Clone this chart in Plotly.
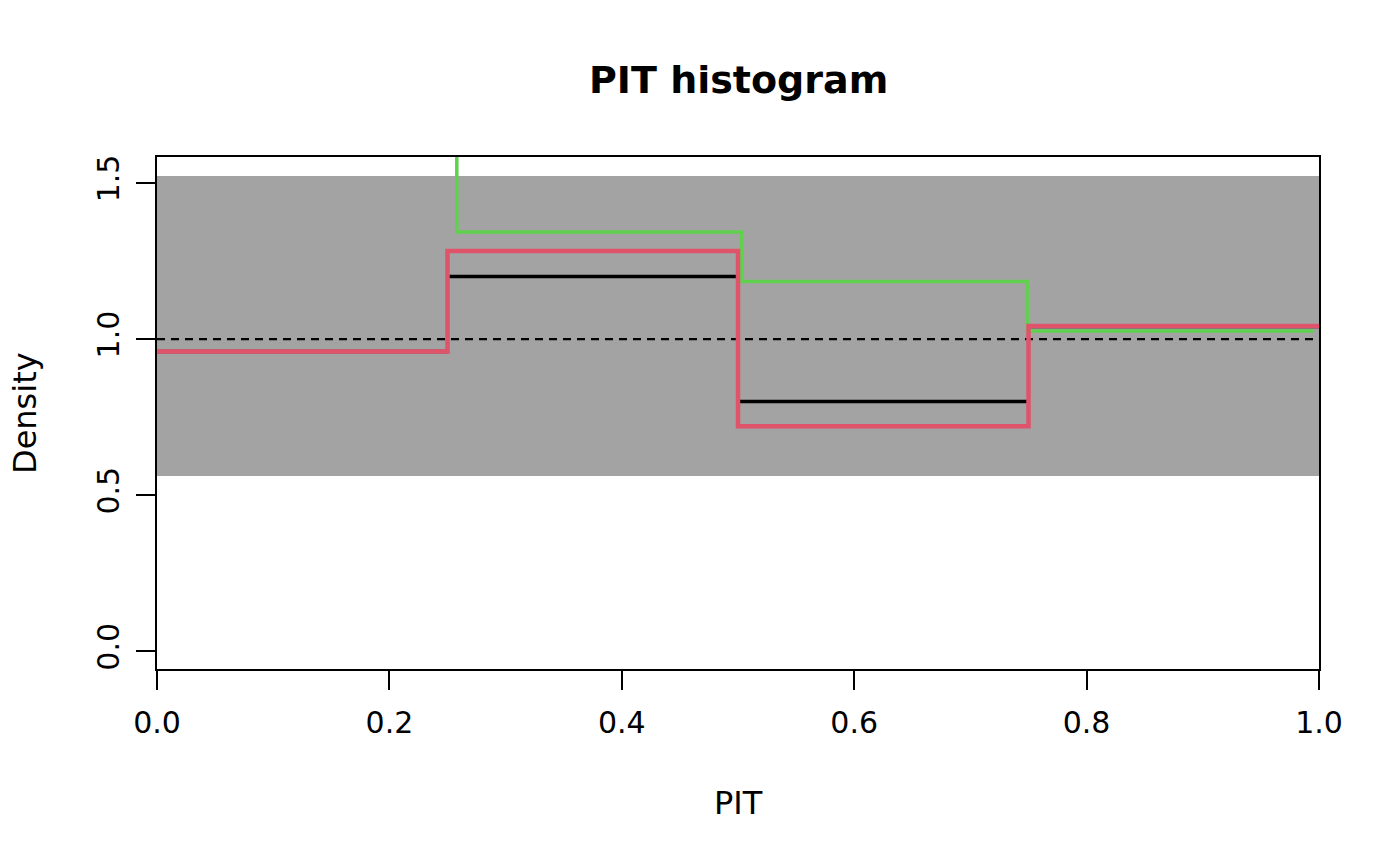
import plotly.graph_objects as go

# ---- data ----
bin_edges = [0.0, 0.25, 0.5, 0.75, 1.0]
black_density = [0.96, 1.20, 0.80, 1.04]
red_density = [0.96, 1.282, 0.721, 1.042]
green_x = [0.008, 0.258, 0.503, 0.749, 0.995]
green_density = [1.80, 1.343, 1.184, 1.026, 1.026]
band_lower = 0.561
band_upper = 1.522
ref_level = 1.0
x_ticks = [0.0, 0.2, 0.4, 0.6, 0.8, 1.0]
y_ticks = [0.0, 0.5, 1.0, 1.5]
x_range = [0.0, 1.0]
y_range = [-0.0567, 1.583]

FONT = "DejaVu Sans"
RED = "#DF536B"
GREEN = "#61D04F"
GRAY = "#A3A3A3"

fig = go.Figure()

# confidence band
fig.add_trace(go.Scatter(
    x=[bin_edges[0], bin_edges[-1], bin_edges[-1], bin_edges[0], bin_edges[0]],
    y=[band_lower, band_lower, band_upper, band_upper, band_lower],
    fill="toself", fillcolor=GRAY, line=dict(width=0), mode="lines",
    hoverinfo="skip", showlegend=False))

# reference dashed line
fig.add_trace(go.Scatter(
    x=[bin_edges[0], bin_edges[-1]], y=[ref_level, ref_level], mode="lines",
    line=dict(color="black", width=2.2, dash="8px,6px"), showlegend=False))

# black histogram tops (horizontal segments)
bx, by = [], []
for i, v in enumerate(black_density):
    bx += [bin_edges[i], bin_edges[i + 1], None]
    by += [v, v, None]
fig.add_trace(go.Scatter(x=bx, y=by, mode="lines",
                         line=dict(color="black", width=3.5), showlegend=False))

# green step line
fig.add_trace(go.Scatter(x=green_x, y=green_density, mode="lines",
                         line=dict(color=GREEN, width=3.5, shape="hv"), showlegend=False))

# red step line
fig.add_trace(go.Scatter(x=bin_edges, y=red_density + [red_density[-1]], mode="lines",
                         line=dict(color=RED, width=4.5, shape="hv"), showlegend=False))

axis_common = dict(showgrid=False, zeroline=False, showline=True, linecolor="black",
                   linewidth=2, mirror=True, ticks="outside", ticklen=19, tickwidth=2,
                   tickcolor="black", tickfont=dict(family=FONT, size=30, color="black"))

fig.update_xaxes(range=x_range, tickvals=x_ticks,
                 ticktext=[f"{t:.1f}" for t in x_ticks], ticklabelstandoff=7, **axis_common)
fig.update_yaxes(range=y_range, tickvals=y_ticks,
                 ticktext=[f"{t:.1f}" for t in y_ticks], tickangle=-90,
                 ticklabelstandoff=5, **axis_common)

fig.update_layout(
    width=1400, height=866,
    margin=dict(l=157, r=81, t=157, b=197),
    paper_bgcolor="white", plot_bgcolor="white",
    font=dict(family=FONT, color="black"),
    annotations=[
        dict(text="<b>PIT histogram</b>", x=0.5, y=1, xref="paper", yref="paper",
             yshift=157 - 80, yanchor="middle",
             showarrow=False, font=dict(size=38, family=FONT)),
        dict(text="PIT", x=0.5, y=0, xref="paper", yref="paper", yshift=-134,
             showarrow=False, font=dict(size=32, family=FONT), yanchor="middle"),
        dict(text="Density", x=0, y=0.5, xref="paper", yref="paper", xshift=-132,
             textangle=-90, showarrow=False, font=dict(size=32, family=FONT),
             xanchor="center"),
    ],
)

fig.write_html("out.html")
